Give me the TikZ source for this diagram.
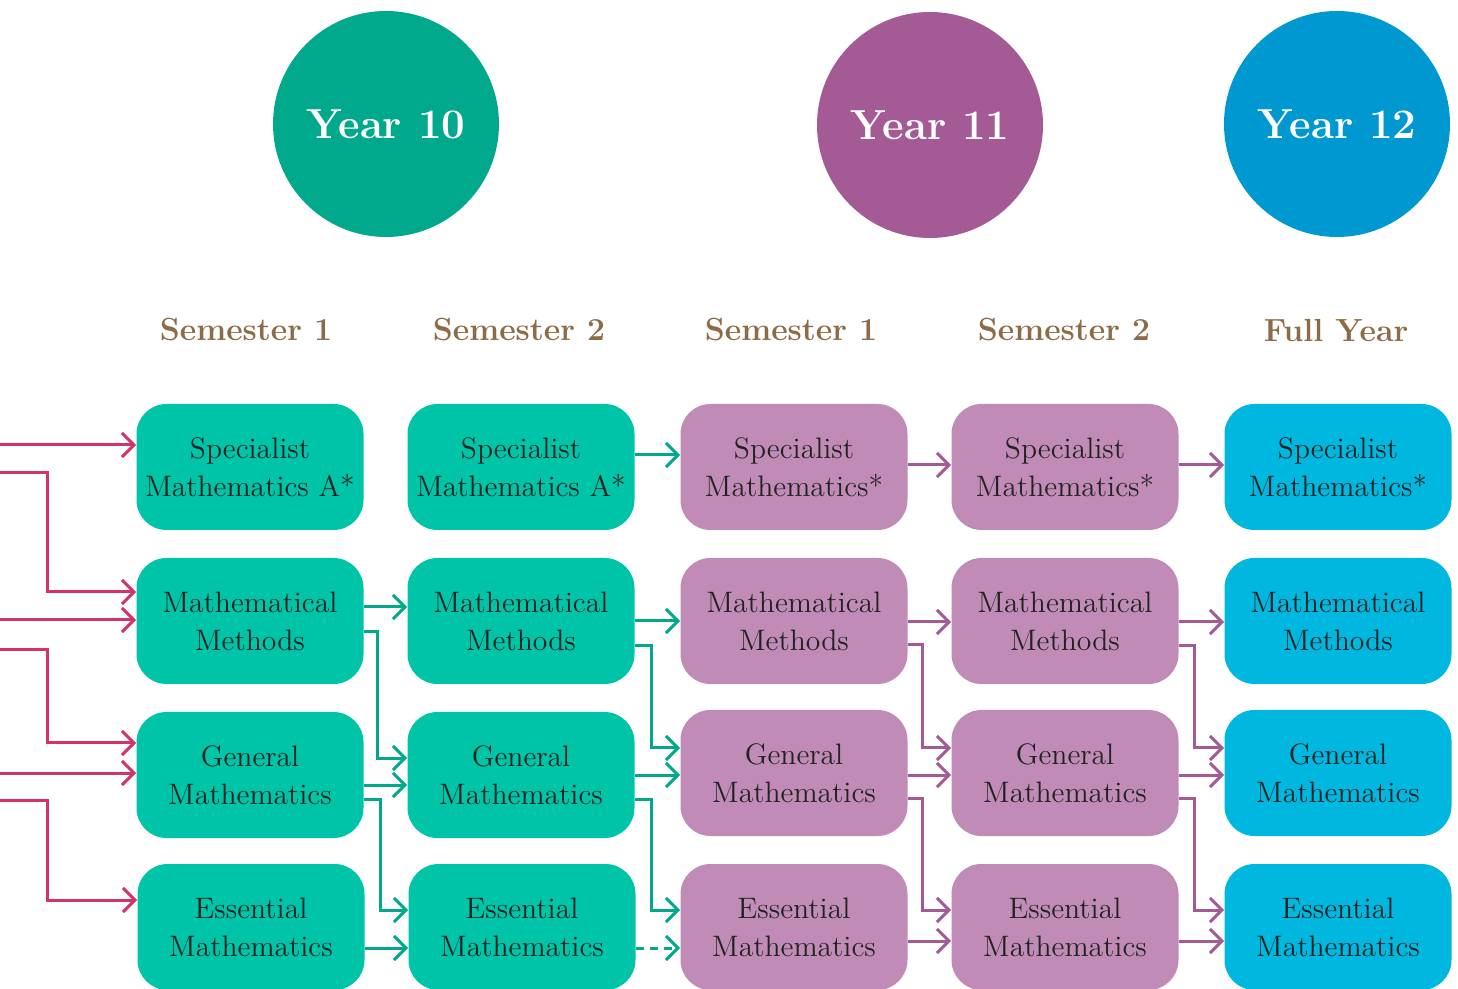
\documentclass[tikz,border=0pt]{standalone}
\usepackage{tikz}
\usetikzlibrary{arrows.meta}

\definecolor{tealbox}{HTML}{00C4A8}
\definecolor{tealdark}{HTML}{00A98B}
\definecolor{purplebox}{HTML}{C08BB6}
\definecolor{purpledark}{HTML}{A35A95}
\definecolor{bluebox}{HTML}{00B8DF}
\definecolor{bluedark}{HTML}{0098D0}
\definecolor{headbrown}{HTML}{8C6B48}
\definecolor{entryred}{HTML}{D3336A}
\definecolor{boxtext}{HTML}{222222}

\begin{document}
\begin{tikzpicture}[x=0.5pt, y=-0.5pt,
    year/.style={circle, minimum size=113pt, inner sep=0pt, text=white,
        font=\fontsize{21}{24}\selectfont\bfseries},
    semester/.style={text=headbrown, font=\fontsize{16}{19}\selectfont\bfseries},
    box/.style={rounded corners=15pt, minimum width=113.5pt, minimum height=63pt,
        inner sep=0pt, align=center, text=boxtext, font=\fontsize{14.8}{19}\selectfont},
    tenbox/.style={box, fill=tealbox},
    elevenbox/.style={box, fill=purplebox},
    twelvebox/.style={box, fill=bluebox},
    link/.style={line width=1.5pt, -{Straight Barb[length=6pt, width=12pt]}},
    entry/.style={link, entryred},
    tlink/.style={link, tealdark},
    plink/.style={link, purpledark}]
    \useasboundingbox (0,0) rectangle (1458,989);

    % Years
    \node[year, fill=tealdark] (y10) at (386,124) {Year 10};
    \node[year, fill=purpledark] (y11) at (930,125) {Year 11};
    \node[year, fill=bluedark] (y12) at (1337,124) {Year 12};

    % Semester headings
    \node[semester] (h1) at (246,330) {Semester 1};
    \node[semester] (h2) at (519,330) {Semester 2};
    \node[semester] (h3) at (791,330) {Semester 1};
    \node[semester] (h4) at (1064,330) {Semester 2};
    \node[semester] (h5) at (1336,330) {Full Year};

    % Year 10, semester 1
    \node[tenbox] (s1) at (250,467) {Specialist\\Mathematics A*};
    \node[tenbox] (m1) at (250,621) {Mathematical\\Methods};
    \node[tenbox] (g1) at (250,775) {General\\Mathematics};
    \node[tenbox] (e1) at (251,927) {Essential\\Mathematics};

    % Year 10, semester 2
    \node[tenbox] (s2) at (521,467) {Specialist\\Mathematics A*};
    \node[tenbox] (m2) at (521,621) {Mathematical\\Methods};
    \node[tenbox] (g2) at (521,775) {General\\Mathematics};
    \node[tenbox] (e2) at (522,927) {Essential\\Mathematics};

    % Year 11, semester 1
    \node[elevenbox] (s3) at (794,467) {Specialist\\Mathematics*};
    \node[elevenbox] (m3) at (794,621) {Mathematical\\Methods};
    \node[elevenbox] (g3) at (794,773) {General\\Mathematics};
    \node[elevenbox] (e3) at (794,927) {Essential\\Mathematics};

    % Year 11, semester 2
    \node[elevenbox] (s4) at (1065,467) {Specialist\\Mathematics*};
    \node[elevenbox] (m4) at (1065,621) {Mathematical\\Methods};
    \node[elevenbox] (g4) at (1065,773) {General\\Mathematics};
    \node[elevenbox] (e4) at (1065,927) {Essential\\Mathematics};

    % Year 12
    \node[twelvebox] (s5) at (1338,467) {Specialist\\Mathematics*};
    \node[twelvebox] (m5) at (1338,621) {Mathematical\\Methods};
    \node[twelvebox] (g5) at (1338,773) {General\\Mathematics};
    \node[twelvebox] (e5) at (1338,927) {Essential\\Mathematics};

    % Entry points
    \coordinate (in1) at (0,445);
    \coordinate (in2) at (0,473);
    \coordinate (in3) at (0,620);
    \coordinate (in4) at (0,650);
    \coordinate (in5) at (0,773);
    \coordinate (in6) at (0,800);

    % Arrows
    % into year 10
    \draw[entry] (in1) -- (s1.west |- in1);
    \draw[entry] (in2) -- (47,473) |- (m1.west |- 0,592);
    \draw[entry] (in3) -- (m1.west |- in3);
    \draw[entry] (in4) -- (47,650) |- (g1.west |- 0,743);
    \draw[entry] (in5) -- (g1.west |- in5);
    \draw[entry] (in6) -- (47,800) |- (e1.west |- 0,900);

    % semester 1 to semester 2
    \draw[tlink] (m1.east |- 0,607) -- (m2.west |- 0,607);
    \draw[tlink] (m1.east |- 0,632) -- (377,632) |- (g2.west |- 0,758);
    \draw[tlink] (g1.east |- 0,785) -- (g2.west |- 0,785);
    \draw[tlink] (g1.east |- 0,799) -- (380,799) |- (e2.west |- 0,910);
    \draw[tlink] (e1.east |- 0,948) -- (e2.west |- 0,948);

    % year 10 to year 11
    \draw[tlink] (s2.east |- 0,455) -- (s3.west |- 0,455);
    \draw[tlink] (m2.east |- 0,621) -- (m3.west |- 0,621);
    \draw[tlink] (m2.east |- 0,646) -- (651,646) |- (g3.west |- 0,748);
    \draw[tlink] (g2.east |- 0,775) -- (g3.west |- 0,775);
    \draw[tlink] (g2.east |- 0,799) -- (651,799) |- (e3.west |- 0,910);
    \draw[tlink, dash pattern=on 4pt off 3pt] (e2.east |- 0,948) -- (e3.west |- 0,948);

    % semester 1 to semester 2
    \draw[plink] (s3.east |- 0,465) -- (s4.west |- 0,465);
    \draw[plink] (m3.east |- 0,622) -- (m4.west |- 0,622);
    \draw[plink] (m3.east |- 0,645) -- (922,645) |- (g4.west |- 0,748);
    \draw[plink] (g3.east |- 0,775) -- (g4.west |- 0,775);
    \draw[plink] (g3.east |- 0,798) -- (922,798) |- (e4.west |- 0,910);
    \draw[plink] (e3.east |- 0,941) -- (e4.west |- 0,941);

    % year 11 to year 12
    \draw[plink] (s4.east |- 0,465) -- (s5.west |- 0,465);
    \draw[plink] (m4.east |- 0,622) -- (m5.west |- 0,622);
    \draw[plink] (m4.east |- 0,646) -- (1194,646) |- (g5.west |- 0,748);
    \draw[plink] (g4.east |- 0,775) -- (g5.west |- 0,775);
    \draw[plink] (g4.east |- 0,798) -- (1194,798) |- (e5.west |- 0,910);
    \draw[plink] (e4.east |- 0,941) -- (e5.west |- 0,941);

\end{tikzpicture}
\end{document}
